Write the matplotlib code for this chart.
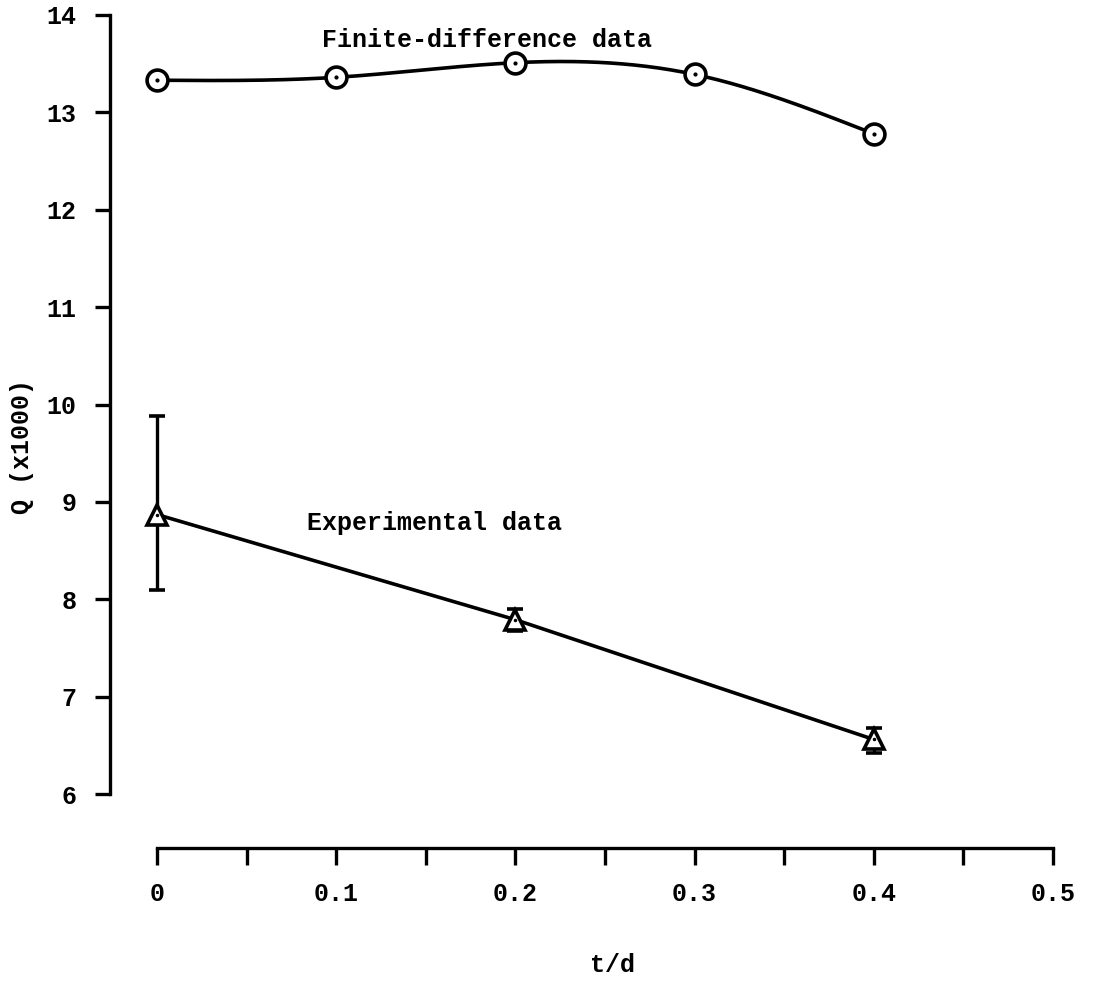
import numpy as np
import matplotlib.pyplot as plt

# finite-difference results
td_fd = [0.0, 0.1, 0.2, 0.3, 0.4]
q_fd = [13.33, 13.36, 13.51, 13.39, 12.78]

# experimental results with error bars
td_exp = [0.0, 0.2, 0.4]
q_exp = [8.87, 7.79, 6.56]
q_exp_lo = [8.10, 7.67, 6.42]
q_exp_hi = [9.88, 7.90, 6.68]

x_ticks = [0, 0.1, 0.2, 0.3, 0.4, 0.5]
x_ticklabels = ["0", "0.1", "0.2", "0.3", "0.4", "0.5"]
x_minor = [0.05, 0.15, 0.25, 0.35, 0.45]
y_ticks = [6, 7, 8, 9, 10, 11, 12, 13, 14]


def natural_spline(x, y, xs):
    # smooth curve through the points (natural cubic spline)
    x = np.asarray(x, float)
    y = np.asarray(y, float)
    n = len(x)
    h = np.diff(x)
    A = np.zeros((n, n))
    r = np.zeros(n)
    A[0, 0] = A[-1, -1] = 1
    for i in range(1, n - 1):
        A[i, i - 1] = h[i - 1]
        A[i, i] = 2 * (h[i - 1] + h[i])
        A[i, i + 1] = h[i]
        r[i] = 3 * ((y[i + 1] - y[i]) / h[i] - (y[i] - y[i - 1]) / h[i - 1])
    c = np.linalg.solve(A, r)
    b = (y[1:] - y[:-1]) / h - h * (2 * c[:-1] + c[1:]) / 3
    d = (c[1:] - c[:-1]) / (3 * h)
    idx = np.clip(np.searchsorted(x, xs) - 1, 0, n - 2)
    t = xs - x[idx]
    return y[idx] + b[idx] * t + c[idx] * t ** 2 + d[idx] * t ** 3


plt.rcParams['font.family'] = ['Liberation Mono', 'DejaVu Sans Mono']
plt.rcParams['font.weight'] = 'bold'

fs = 18
lw = 2.6

fig = plt.figure(figsize=(10.99, 9.83), dpi=100)
ax = fig.add_axes([0.1001, 0.1353, 0.8644, 0.8545])
ax.set_xlim(-0.0262, 0.5039)
ax.set_ylim(5.425, 14.051)

# finite-difference curve
xs = np.linspace(td_fd[0], td_fd[-1], 300)
ax.plot(xs, natural_spline(td_fd, q_fd, xs), color="black", lw=lw, zorder=2)
ax.plot(td_fd, q_fd, "o", ms=15, mfc="white", mec="black", mew=2.6, zorder=3)
ax.plot(td_fd, q_fd, ".", ms=4, color="black", zorder=4)

# experimental data
err_lo = np.array(q_exp) - np.array(q_exp_lo)
err_hi = np.array(q_exp_hi) - np.array(q_exp)
ax.errorbar(td_exp, q_exp, yerr=[err_lo, err_hi], fmt="none", ecolor="black",
            elinewidth=2.4, capsize=6, capthick=2.6, zorder=2)
ax.plot(td_exp, q_exp, color="black", lw=lw, zorder=2)
ax.plot(td_exp, q_exp, "^", ms=15, mfc="white", mec="black", mew=2.6, zorder=3)
ax.plot(td_exp, q_exp, ".", ms=3, color="black", zorder=4)

ax.text(0.092, 13.74, "Finite-difference data", fontsize=fs, va="center", ha="left")
ax.text(0.084, 8.78, "Experimental data", fontsize=fs, va="center", ha="left")

# axes
for s in ["top", "right"]:
    ax.spines[s].set_visible(False)
ax.spines["left"].set_bounds(6, 14)
ax.spines["left"].set_linewidth(2.4)
ax.spines["bottom"].set_position(("data", 5.45))
ax.spines["bottom"].set_bounds(0, 0.5)
ax.spines["bottom"].set_linewidth(2.4)

ax.set_yticks(y_ticks)
ax.set_xticks(x_ticks)
ax.set_xticklabels(x_ticklabels)
ax.set_xticks(x_minor, minor=True)
ax.tick_params(axis="y", direction="out", length=11, width=2.4, pad=13, labelsize=fs)
ax.tick_params(axis="x", which="both", direction="out", length=12, width=2.4, pad=13, labelsize=fs)

fig.text(612 / 1099, 1 - 965 / 983, "t/d", fontsize=fs, ha="center", va="center")
fig.text(22 / 1099, 1 - 447 / 983, "Q (x1000)", fontsize=fs, ha="center", va="center", rotation=90)

fig.savefig("out.png", dpi=100)
